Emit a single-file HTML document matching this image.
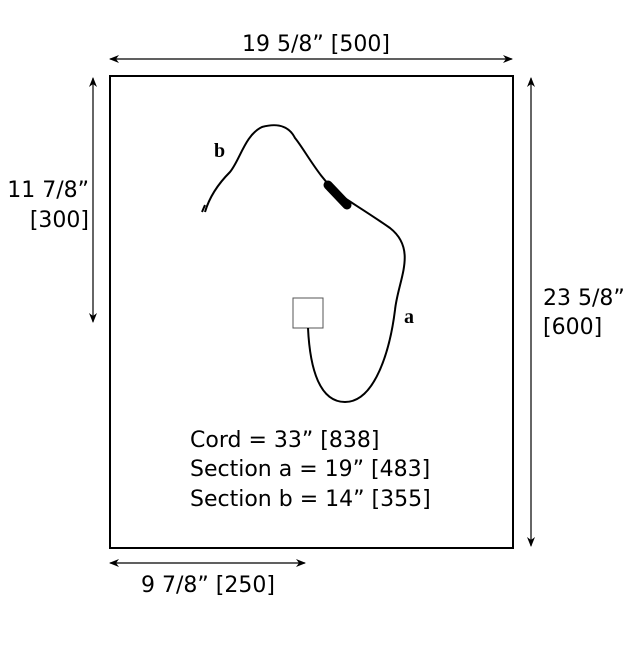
<!DOCTYPE html>
<html><head><style>body{margin:0;background:#fff}</style></head><body>
<svg width="640" height="640" viewBox="0 0 640 640" xmlns="http://www.w3.org/2000/svg" font-family="DejaVu Sans, sans-serif">
<defs><marker id="ar" markerWidth="10" markerHeight="8" refX="9" refY="4" orient="auto-start-reverse" markerUnits="userSpaceOnUse"><path d="M0,0 L10,4 L0,8 L3,4 Z" fill="#000"/></marker></defs>
<rect x="110" y="76" width="403" height="472" fill="none" stroke="#000" stroke-width="2"/>
<g stroke="#000" stroke-width="1.2" fill="none">
<line x1="110" y1="59" x2="512" y2="59" marker-start="url(#ar)" marker-end="url(#ar)"/>
<line x1="93" y1="78" x2="93" y2="322" marker-start="url(#ar)" marker-end="url(#ar)"/>
<line x1="531" y1="78" x2="531" y2="546" marker-start="url(#ar)" marker-end="url(#ar)"/>
<line x1="110" y1="563" x2="305" y2="563" marker-start="url(#ar)" marker-end="url(#ar)"/>
</g>
<g font-size="22" fill="#000">
<text x="316" y="51" text-anchor="middle">19 5/8” [500]</text>
<text x="89" y="197" text-anchor="end">11 7/8”</text>
<text x="89" y="227" text-anchor="end">[300]</text>
<text x="543" y="305">23 5/8”</text>
<text x="543" y="334">[600]</text>
<text x="208" y="592" text-anchor="middle">9 7/8” [250]</text>
<text x="190" y="447">Cord = 33” [838]</text>
<text x="190" y="476">Section a = 19” [483]</text>
<text x="190" y="506">Section b = 14” [355]</text>
</g>
<g font-family="Liberation Serif, serif" font-size="20" font-weight="bold"><text x="214" y="157">b</text><text x="404" y="323">a</text></g>
<rect x="293" y="298" width="30" height="30" fill="#fff" stroke="#555" stroke-width="1"/>
<path d="M308,328 C310,370 320,402 345,402 C375,402 390,350 395,310 C398,280 418,250 390,228 C370,214 355,205 340,195 C320,180 305,150 295,138 C290,128 280,122 262,127 C245,135 240,160 230,172 C220,182 210,195 205,212 M205,205 L202,212" fill="none" stroke="#000" stroke-width="2"/>
<line x1="328" y1="185" x2="347" y2="205" stroke="#000" stroke-width="9" stroke-linecap="round"/>
</svg>
</body></html>
